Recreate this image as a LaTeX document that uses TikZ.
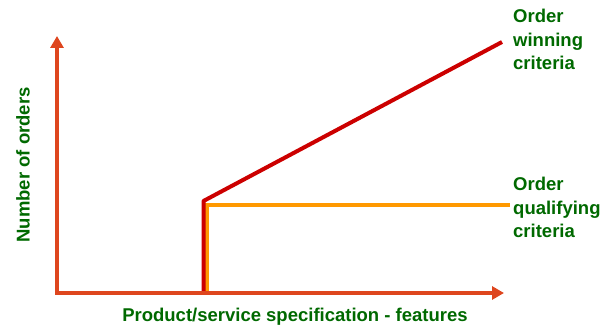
\documentclass[tikz,border=0pt]{standalone}
\usepackage{fontspec}
\setmainfont{Liberation Sans}
\usetikzlibrary{arrows.meta}
\definecolor{axiscol}{RGB}{222,70,30}
\definecolor{winred}{RGB}{204,0,0}
\definecolor{qualor}{RGB}{255,153,0}
\definecolor{labgreen}{RGB}{0,105,0}
\tikzset{
  axis/.style={draw=axiscol, line width=3.5pt, -{Triangle[length=12pt,width=13pt]}},
  lab/.style={text=labgreen, font=\fontsize{18.5}{23.5}\selectfont\bfseries, inner sep=0pt},
}
\begin{document}
\begin{tikzpicture}[x=1pt,y=-1pt]
\useasboundingbox (0,0) rectangle (603,328);
\coordinate (O) at (57,293);
\coordinate (ytop) at (57,36);
\coordinate (xend) at (504,293);
\coordinate (kw) at (203.5,201);
\coordinate (kq) at (207,205);
\coordinate (wend) at (502,42);
\coordinate (qend) at (510,205);
\coordinate (wbase) at (203.5,293);
\coordinate (qbase) at (207,293);
\draw[draw=qualor, line width=3.5pt] (qbase) -- (kq) -- (qend);
\draw[draw=winred, line width=4pt, line join=round] (wbase) -- (kw) -- (wend);
\draw[axis] (O) -- (ytop);
\draw[axis] ([xshift=-1.75pt]O) -- (xend);
\node[lab, anchor=north west, align=left] (win) at (513,9) {Order\\winning\\criteria};
\node[lab, anchor=north west, align=left] (qual) at (513,177) {Order\\qualifying\\criteria};
\node[lab, rotate=90] (ylab) at (23,165) {Number of orders};
\node[lab] (xlab) at (295,317) {Product/service specification - features};
\end{tikzpicture}
\end{document}
